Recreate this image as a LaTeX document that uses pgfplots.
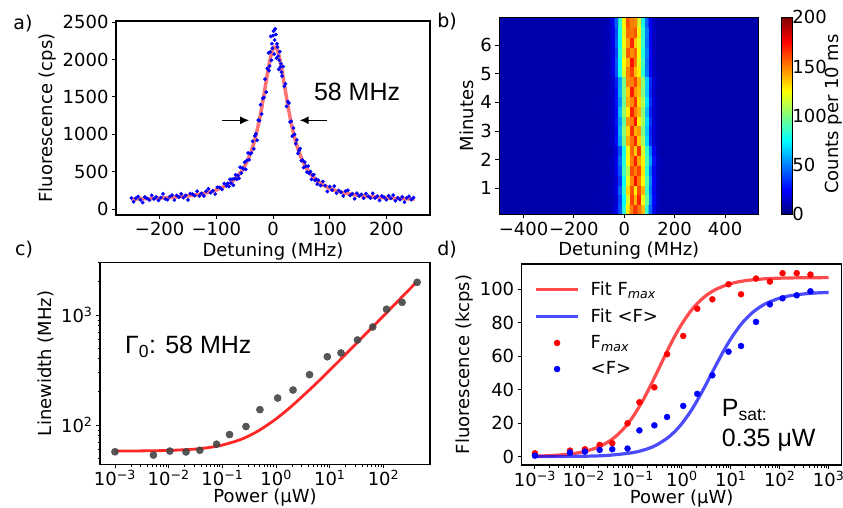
\documentclass[border=0pt]{standalone}
\usepackage{fontspec}
\setmainfont{DejaVu Sans}
\newfontfamily\arial{Liberation Sans}
\usepackage{pgfplots}
\pgfplotsset{compat=1.18}
\usetikzlibrary{arrows.meta}
\newcommand{\tp}[1]{10\textsuperscript{#1}}
\newcommand{\fs}{\fontsize{18}{21}\selectfont}
\newcommand{\fa}{\arial\fontsize{25}{28}\selectfont}
\definecolor{hmbg}{rgb}{0,0,0.68}
\definecolor{dotgray}{rgb}{0.27,0.27,0.27}
\pgfplotsset{
 every axis/.append style={
   scale only axis,
   tick align=outside,
   axis line style={line width=1.1pt},
   every tick/.append style={black, line width=0.9pt},
   major tick length=4pt, minor tick length=2.5pt,
   tick label style={font=\fs},
   label style={font=\fs},
   /pgf/number format/assume math mode=true,
   /pgf/number format/1000 sep={},
 },
 lineleg/.style={legend image code/.code={\draw[##1] (0pt,0pt) -- (42pt,0pt);}},
 markleg/.style={legend image code/.code={\draw[##1] plot coordinates {(21pt,0pt)};}},
}
\begin{document}
\begin{tikzpicture}
\useasboundingbox (0,0) rectangle (843pt,507pt);

% ---------------- a ----------------
\begin{axis}[at={(116pt,292pt)}, anchor=south west, width=314pt, height=194pt,
 xmin=-277, xmax=277, ymin=-80, ymax=2515, tick pos=left,
 xtick={-200,-100,0,100,200}, xticklabels={−200,−100,0,100,200},
 ytick={0,500,1000,1500,2000,2500},
 xlabel={Detuning (MHz)}, ylabel={Fluorescence (cps)}]
\addplot[only marks, mark=*, mark size=1.7pt, blue] coordinates {
(-250,147) (-246,97) (-242,143) (-238,168) (-234,123) (-230,88) (-226,161) (-222,141) (-218,118) (-214,183) (-210,136) (-206,161) (-202,115) (-198,152) (-194,202) (-190,135) (-186,125) (-182,166) (-178,186) (-174,119) (-170,182) (-166,161) (-162,203) (-158,152) (-154,182) (-150,122) (-146,207) (-142,199) (-138,179) (-134,238) (-130,174) (-126,209) (-122,175) (-118,237) (-114,270) (-110,218) (-106,245) (-102,200) (-98,291) (-94,288) (-90,262) (-86,341) (-82,310)
(-80,343) (-78,301) (-76,397) (-74,346) (-72,399) (-70,318) (-68,406) (-66,457) (-64,399) (-62,449) (-60,409) (-58,559) (-56,481) (-54,550) (-52,537) (-50,625) (-48,530) (-46,651) (-44,750) (-42,659) (-40,740) (-38,749) (-36,905) (-34,805) (-32,978) (-30,1006) (-28,919) (-26,1190) (-24,1183) (-22,1395) (-20,1270) (-18,1480) (-16,1493) (-14,1737) (-12,1563) (-10,1879) (-8,2089) (-6,1913) (-4,2310) (-2,2212) (0,2318) (2,2072) (4,2409) (6,2018) (8,2166) (10,1868) (12,2105) (14,1944) (16,1780) (18,1907) (20,1641) (22,1676) (24,1373) (26,1437) (28,1419) (30,1164) (32,1173) (34,974) (36,1085) (38,999) (40,874) (42,924) (44,744) (46,782) (48,809) (50,647) (52,655) (54,554) (56,627) (58,572) (60,494) (62,574) (64,476) (66,500) (68,396) (70,453) (72,460) (74,382) (76,399) (78,333) (80,385)
(1,2380) (3,2260) (5,2335) (7,2210) (-1,2150) (-3,1990) (9,2045) (11,1990) (-5,2100) (13,1900) (-7,1850) (15,1830)
(84,314) (88,367) (92,313) (96,234) (100,300) (104,253) (108,306) (112,211) (116,248) (120,225) (124,176) (128,239) (132,251) (136,181) (140,205) (144,138) (148,212) (152,175) (156,195) (160,144) (164,206) (168,170) (172,146) (176,210) (180,147) (184,172) (188,116) (192,174) (196,157) (200,125) (204,177) (208,143) (212,186) (216,110) (220,150) (224,125) (228,163) (232,93) (236,149) (240,169) (244,126) (248,152)
};
\addplot[red, opacity=0.55, line width=3.5pt, smooth] coordinates {
(-250,132) (-200,146) (-150,176) (-120,213) (-100,255) (-80,327) (-70,383) (-60,462) (-55,512) (-50,574) (-45,649) (-40,740) (-35,852) (-30,990) (-25,1155) (-20,1351) (-15,1573) (-10,1802) (-5,2007) (-2.5,2085) (0,2140) (2.5,2167) (5,2164) (7.5,2131) (10,2071) (15,1890) (20,1665) (25,1438) (30,1230) (35,1052) (40,904) (45,783) (50,683) (55,602) (60,536) (70,435) (80,364) (100,276) (120,225) (150,183) (200,149) (250,133)
};
\node[font=\fa, anchor=west, inner sep=0pt] at (axis cs:72,1573) {58 MHz};
\draw[-{Latex[length=9pt,width=8pt]}, line width=1.4pt] (axis cs:-90,1187) -- (axis cs:-42,1187);
\draw[-{Latex[length=9pt,width=8pt]}, line width=1.4pt] (axis cs:95,1187) -- (axis cs:47,1187);
\end{axis}

% ---------------- b ----------------
\begin{axis}[at={(499.3pt,292.7pt)}, anchor=south west, width=259pt, height=197pt,
 xmin=-496, xmax=532, ymin=0.09, ymax=6.97, tick pos=left, axis on top,
 colormap/jet, point meta min=0, point meta max=200,
 axis background/.style={fill=hmbg},
 xtick={-400,-200,0,200,400}, xticklabels={−400,−200,0,200,400},
 ytick={1,2,3,4,5,6},
 xlabel={Detuning (MHz)}, ylabel={Minutes},
 colorbar,
 colorbar style={at={(parent axis.north east)}, anchor=north west, xshift=15pt,
   scale only axis, width=11pt, height=197pt,
   ytick={0,50,100,150,200}, major tick length=0pt,
   yticklabel pos=right, yticklabel style={font=\fs, xshift=-4pt},
   axis line style={line width=0.9pt}}]
\addplot[matrix plot*, mesh/cols=20, point meta=explicit] coordinates {
(-90,0.262)[9] (-75,0.262)[10] (-60,0.262)[9] (-45,0.262)[12] (-30,0.262)[20] (-15,0.262)[42] (0,0.262)[82] (15,0.262)[128] (30,0.262)[150] (45,0.262)[165] (60,0.262)[152] (75,0.262)[138] (90,0.262)[86] (105,0.262)[45] (120,0.262)[21] (135,0.262)[12] (150,0.262)[10] (165,0.262)[9] (180,0.262)[9] (195,0.262)[9]
(-90,0.606)[10] (-75,0.606)[9] (-60,0.606)[10] (-45,0.606)[11] (-30,0.606)[17] (-15,0.606)[38] (0,0.606)[76] (15,0.606)[118] (30,0.606)[162] (45,0.606)[140] (60,0.606)[168] (75,0.606)[122] (90,0.606)[95] (105,0.606)[52] (120,0.606)[26] (135,0.606)[13] (150,0.606)[9] (165,0.606)[10] (180,0.606)[9] (195,0.606)[9]
(-90,0.95)[9] (-75,0.95)[9] (-60,0.95)[11] (-45,0.95)[12] (-30,0.95)[20] (-15,0.95)[44] (0,0.95)[84] (15,0.95)[132] (30,0.95)[158] (45,0.95)[128] (60,0.95)[160] (75,0.95)[140] (90,0.95)[88] (105,0.95)[48] (120,0.95)[23] (135,0.95)[12] (150,0.95)[10] (165,0.95)[9] (180,0.95)[9] (195,0.95)[9]
(-90,1.294)[9] (-75,1.294)[10] (-60,1.294)[10] (-45,1.294)[12] (-30,1.294)[18] (-15,1.294)[36] (0,1.294)[78] (15,1.294)[120] (30,1.294)[148] (45,1.294)[172] (60,1.294)[150] (75,1.294)[126] (90,1.294)[92] (105,1.294)[52] (120,1.294)[25] (135,1.294)[13] (150,1.294)[9] (165,1.294)[9] (180,1.294)[10] (195,1.294)[9]
(-90,1.638)[9] (-75,1.638)[9] (-60,1.638)[10] (-45,1.638)[12] (-30,1.638)[21] (-15,1.638)[42] (0,1.638)[88] (15,1.638)[110] (30,1.638)[160] (45,1.638)[150] (60,1.638)[162] (75,1.638)[130] (90,1.638)[84] (105,1.638)[47] (120,1.638)[22] (135,1.638)[12] (150,1.638)[10] (165,1.638)[9] (180,1.638)[9] (195,1.638)[9]
(-90,1.982)[9] (-75,1.982)[9] (-60,1.982)[11] (-45,1.982)[13] (-30,1.982)[23] (-15,1.982)[46] (0,1.982)[82] (15,1.982)[124] (30,1.982)[150] (45,1.982)[170] (60,1.982)[142] (75,1.982)[128] (90,1.982)[90] (105,1.982)[56] (120,1.982)[28] (135,1.982)[13] (150,1.982)[10] (165,1.982)[9] (180,1.982)[9] (195,1.982)[9]
(-90,2.326)[10] (-75,2.326)[9] (-60,2.326)[10] (-45,2.326)[12] (-30,2.326)[19] (-15,2.326)[40] (0,2.326)[80] (15,2.326)[122] (30,2.326)[155] (45,2.326)[135] (60,2.326)[165] (75,2.326)[118] (90,2.326)[86] (105,2.326)[50] (120,2.326)[23] (135,2.326)[12] (150,2.326)[9] (165,2.326)[9] (180,2.326)[9] (195,2.326)[9]
(-90,2.67)[9] (-75,2.67)[9] (-60,2.67)[11] (-45,2.67)[14] (-30,2.67)[28] (-15,2.67)[56] (0,2.67)[98] (15,2.67)[140] (30,2.67)[152] (45,2.67)[168] (60,2.67)[135] (75,2.67)[108] (90,2.67)[68] (105,2.67)[34] (120,2.67)[16] (135,2.67)[11] (150,2.67)[9] (165,2.67)[9] (180,2.67)[9] (195,2.67)[9]
(-90,3.014)[9] (-75,3.014)[10] (-60,3.014)[11] (-45,3.014)[13] (-30,3.014)[26] (-15,3.014)[60] (0,3.014)[102] (15,3.014)[132] (30,3.014)[165] (45,3.014)[140] (60,3.014)[145] (75,3.014)[100] (90,3.014)[64] (105,3.014)[32] (120,3.014)[17] (135,3.014)[11] (150,3.014)[9] (165,3.014)[10] (180,3.014)[9] (195,3.014)[9]
(-90,3.358)[9] (-75,3.358)[9] (-60,3.358)[12] (-45,3.358)[15] (-30,3.358)[30] (-15,3.358)[56] (0,3.358)[94] (15,3.358)[145] (30,3.358)[150] (45,3.358)[172] (60,3.358)[128] (75,3.358)[108] (90,3.358)[68] (105,3.358)[36] (120,3.358)[16] (135,3.358)[11] (150,3.358)[9] (165,3.358)[9] (180,3.358)[9] (195,3.358)[9]
(-90,3.702)[9] (-75,3.702)[9] (-60,3.702)[11] (-45,3.702)[14] (-30,3.702)[27] (-15,3.702)[62] (0,3.702)[104] (15,3.702)[128] (30,3.702)[168] (45,3.702)[150] (60,3.702)[140] (75,3.702)[102] (90,3.702)[62] (105,3.702)[31] (120,3.702)[15] (135,3.702)[10] (150,3.702)[9] (165,3.702)[9] (180,3.702)[9] (195,3.702)[9]
(-90,4.046)[10] (-75,4.046)[9] (-60,4.046)[11] (-45,4.046)[15] (-30,4.046)[29] (-15,4.046)[54] (0,4.046)[96] (15,4.046)[140] (30,4.046)[148] (45,4.046)[165] (60,4.046)[132] (75,4.046)[110] (90,4.046)[70] (105,4.046)[35] (120,4.046)[17] (135,4.046)[11] (150,4.046)[9] (165,4.046)[9] (180,4.046)[9] (195,4.046)[9]
(-90,4.39)[9] (-75,4.39)[9] (-60,4.39)[12] (-45,4.39)[14] (-30,4.39)[28] (-15,4.39)[60] (0,4.39)[100] (15,4.39)[135] (30,4.39)[170] (45,4.39)[145] (60,4.39)[138] (75,4.39)[100] (90,4.39)[64] (105,4.39)[32] (120,4.39)[15] (135,4.39)[10] (150,4.39)[9] (165,4.39)[9] (180,4.39)[9] (195,4.39)[9]
(-90,4.734)[9] (-75,4.734)[9] (-60,4.734)[11] (-45,4.734)[15] (-30,4.734)[31] (-15,4.734)[58] (0,4.734)[98] (15,4.734)[148] (30,4.734)[150] (45,4.734)[162] (60,4.734)[140] (75,4.734)[104] (90,4.734)[66] (105,4.734)[34] (120,4.734)[16] (135,4.734)[11] (150,4.734)[9] (165,4.734)[9] (180,4.734)[9] (195,4.734)[9]
(-90,5.078)[9] (-75,5.078)[10] (-60,5.078)[12] (-45,5.078)[19] (-30,5.078)[40] (-15,5.078)[80] (0,5.078)[118] (15,5.078)[150] (30,5.078)[162] (45,5.078)[138] (60,5.078)[128] (75,5.078)[84] (90,5.078)[49] (105,5.078)[25] (120,5.078)[13] (135,5.078)[10] (150,5.078)[9] (165,5.078)[9] (180,5.078)[9] (195,5.078)[9]
(-90,5.422)[9] (-75,5.422)[9] (-60,5.422)[12] (-45,5.422)[20] (-30,5.422)[42] (-15,5.422)[76] (0,5.422)[124] (15,5.422)[140] (30,5.422)[172] (45,5.422)[150] (60,5.422)[120] (75,5.422)[88] (90,5.422)[47] (105,5.422)[24] (120,5.422)[12] (135,5.422)[10] (150,5.422)[9] (165,5.422)[9] (180,5.422)[9] (195,5.422)[9]
(-90,5.766)[9] (-75,5.766)[10] (-60,5.766)[12] (-45,5.766)[18] (-30,5.766)[38] (-15,5.766)[82] (0,5.766)[116] (15,5.766)[158] (30,5.766)[148] (45,5.766)[155] (60,5.766)[126] (75,5.766)[82] (90,5.766)[51] (105,5.766)[26] (120,5.766)[13] (135,5.766)[10] (150,5.766)[9] (165,5.766)[9] (180,5.766)[9] (195,5.766)[9]
(-90,6.11)[9] (-75,6.11)[9] (-60,6.11)[12] (-45,6.11)[20] (-30,6.11)[43] (-15,6.11)[78] (0,6.11)[122] (15,6.11)[145] (30,6.11)[168] (45,6.11)[136] (60,6.11)[120] (75,6.11)[86] (90,6.11)[47] (105,6.11)[24] (120,6.11)[12] (135,6.11)[10] (150,6.11)[9] (165,6.11)[9] (180,6.11)[9] (195,6.11)[9]
(-90,6.454)[9] (-75,6.454)[10] (-60,6.454)[12] (-45,6.454)[19] (-30,6.454)[40] (-15,6.454)[80] (0,6.454)[120] (15,6.454)[155] (30,6.454)[152] (45,6.454)[158] (60,6.454)[128] (75,6.454)[84] (90,6.454)[50] (105,6.454)[25] (120,6.454)[13] (135,6.454)[10] (150,6.454)[9] (165,6.454)[9] (180,6.454)[9] (195,6.454)[9]
(-90,6.798)[9] (-75,6.798)[9] (-60,6.798)[12] (-45,6.798)[21] (-30,6.798)[44] (-15,6.798)[84] (0,6.798)[126] (15,6.798)[160] (30,6.798)[150] (45,6.798)[148] (60,6.798)[118] (75,6.798)[80] (90,6.798)[45] (105,6.798)[23] (120,6.798)[12] (135,6.798)[10] (150,6.798)[9] (165,6.798)[9] (180,6.798)[9] (195,6.798)[9]
};
\end{axis}
\node[rotate=90, font=\fs, inner sep=0pt] at (834pt,393pt) {Counts per 10 ms};

% ---------------- c ----------------
\begin{axis}[at={(100pt,42.7pt)}, anchor=south west, width=330pt, height=202pt,
 xmode=log, ymode=log, xmin=5.26e-4, xmax=735, ymin=44, ymax=3013, tick pos=left,
 xtick={0.001,0.01,0.1,1,10,100},
 xticklabels={\tp{−3},\tp{−2},\tp{−1},\tp{0},\tp{1},\tp{2}},
 ytick={100,1000}, yticklabels={\tp{2},\tp{3}},
 minor xtick={},
 minor ytick={50,60,70,80,90,200,300,400,500,600,700,800,900,2000,3000},
 xticklabel style={yshift=1.5pt},
 xlabel={Power (μW)}, ylabel={Linewidth (MHz)}, xlabel style={yshift=4pt}]
\addplot[red, opacity=0.85, line width=2.8pt, smooth] coordinates {
(0.001,58.08) (0.003,58.25) (0.01,58.82) (0.03,60.43) (0.06,62.8) (0.1,65.77) (0.2,72.71) (0.3,79.04) (0.5,90.39) (1,113.9) (2,150.3) (5,226.8) (10,315.4) (20,442.3) (50,695.7) (100,982.1) (200,1387.7) (400,1961.6)
};
\addplot[only marks, mark=*, mark size=3.6pt, dotgray, opacity=0.9] coordinates {
(0.001,57.2) (0.0052,53.4) (0.0105,58) (0.021,57) (0.038,59) (0.078,67) (0.136,82) (0.275,97) (0.5,138) (1.07,176) (2.07,208) (4.2,287) (9.0,418) (16.2,452) (32.8,593) (63,778) (114,1128) (222,1303) (424,1983)
};
\node[font=\fa, anchor=west, inner sep=0pt] at (axis cs:0.00153,515) {Γ\textsubscript{0}: 58 MHz};
\end{axis}

% ---------------- d ----------------
\begin{axis}[at={(521.7pt,42pt)}, anchor=south west, width=320pt, height=201pt,
 xmode=log, xmin=5.37e-4, xmax=1843, ymin=-5, ymax=115.1, tick pos=left,
 xtick={0.001,0.01,0.1,1,10,100,1000},
 xticklabels={\tp{−3},\tp{−2},\tp{−1},\tp{0},\tp{1},\tp{2},\tp{3}},
 minor xtick={},
 ytick={0,20,40,60,80,100},
 xticklabel style={yshift=1.5pt},
 xlabel={Power (μW)}, ylabel={Fluorescence (kcps)}, xlabel style={yshift=4pt},
 legend cell align=left,
 legend style={draw=none, fill=none, at={(0.03,0.93)}, anchor=north west, font=\fs, row sep=7.5pt,
   /tikz/every odd column/.append style={column sep=9pt}}]
\addplot[red, opacity=0.7, line width=3.2pt, smooth, lineleg] coordinates {
(0.001,0.305) (0.002,0.608) (0.005,1.507) (0.01,2.973) (0.02,5.784) (0.035,9.727) (0.05,13.375) (0.07,17.83) (0.1,23.78) (0.15,32.1) (0.2,38.91) (0.3,49.38) (0.5,62.94) (0.7,71.33) (1,79.26) (1.5,86.76) (2,91.06) (3,95.82) (5,100.0) (10,103.38) (20,105.16) (50,106.26) (100,106.63) (300,106.88) (1000,106.96)
};
\addlegendentry{Fit F\textsubscript{\textit{max}}}
\addplot[blue, opacity=0.7, line width=3.2pt, smooth, lineleg] coordinates {
(0.001,0.025) (0.01,0.246) (0.03,0.733) (0.1,2.402) (0.2,4.69) (0.3,6.87) (0.5,10.94) (0.7,14.67) (1,19.7) (1.5,26.86) (2,32.83) (3,42.21) (5,54.72) (7,62.68) (10,70.36) (15,77.76) (20,82.08) (30,86.91) (50,91.2) (100,94.71) (200,96.57) (500,97.72) (1000,98.11)
};
\addlegendentry{Fit <F>}
\addplot[only marks, mark=*, mark size=3pt, red, markleg] coordinates {
(0.001,2.0) (0.0052,3.6) (0.0105,4.4) (0.021,7.0) (0.038,8.0) (0.078,19.9) (0.136,32.5) (0.275,41.4) (0.5,61.2) (1.07,72.1) (2.07,88.4) (4.2,94.0) (9.0,103.0) (16.2,97.0) (32.8,106.4) (63,104.6) (114,109.6) (222,109.6) (424,108.8)
};
\addlegendentry{F\textsubscript{\textit{max}}}
\addplot[only marks, mark=*, mark size=3pt, blue, markleg] coordinates {
(0.001,0.6) (0.0052,2.4) (0.0105,3.0) (0.021,4.0) (0.038,4.4) (0.078,4.8) (0.136,15.7) (0.275,18.7) (0.5,23.7) (1.07,30.3) (2.07,37.5) (4.2,48.6) (9.0,62.7) (16.2,66.1) (32.8,80.5) (63,91.0) (114,94.6) (222,96.4) (424,98.8)
};
\addlegendentry{<F>}
\node[font=\fa, anchor=west, inner sep=0pt] at (axis cs:6.55,27.9) {P\textsubscript{sat:}};
\node[font=\fa, anchor=west, inner sep=0pt] at (axis cs:6.55,10.0) {0.35 μW};
\end{axis}

\node[font=\fontsize{19}{21}\selectfont] at (23pt,483pt) {a)};
\node[font=\fontsize{19}{21}\selectfont] at (447pt,485pt) {b)};
\node[font=\fontsize{19}{21}\selectfont] at (24pt,257pt) {c)};
\node[font=\fontsize{19}{21}\selectfont] at (447pt,257pt) {d)};
\end{tikzpicture}
\end{document}
